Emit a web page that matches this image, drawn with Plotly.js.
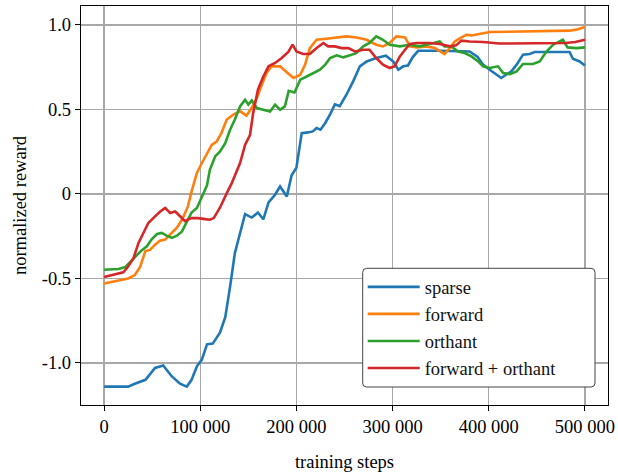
<!DOCTYPE html>
<html>
<head>
<meta charset="utf-8">
<script src="https://cdn.plot.ly/plotly-3.0.1.min.js"></script>
<style>html,body{margin:0;padding:0;background:#fff;}#chart{width:618px;height:475px;}</style>
</head>
<body>
<div id="chart"></div>
<script>
const seriesNames = ["sparse", "forward", "orthant", "forward + orthant"];
const seriesColors = ["#1f77b4", "#ff7f0e", "#2ca02c", "#d62728"];

const sparseX = [0, 10000, 20000, 25000, 32000, 43000, 53000, 61500, 70500, 79000, 86000, 91000, 96500, 101700, 107000, 113000, 120600, 126000, 131000, 136000, 141500, 146600, 153500, 160000, 165600, 171000, 177800, 183000, 190000, 195000, 200000, 205500, 212000, 217000, 221000, 225000, 230000, 235000, 240000, 245000, 252000, 259000, 266000, 273000, 283000, 293000, 300600, 306000, 311000, 316000, 321000, 326600, 349000, 365000, 380000, 388500, 394000, 401000, 408000, 413000, 418000, 423500, 429000, 435600, 442600, 447800, 484000, 487500, 494500, 500000];
const sparseY = [-1.14, -1.14, -1.14, -1.14, -1.123, -1.10, -1.03, -1.015, -1.08, -1.123, -1.14, -1.10, -1.02, -0.98, -0.89, -0.886, -0.82, -0.73, -0.55, -0.35, -0.23, -0.12, -0.14, -0.11, -0.15, -0.05, -0.005, 0.044, -0.015, 0.11, 0.155, 0.36, 0.364, 0.37, 0.39, 0.38, 0.42, 0.47, 0.53, 0.52, 0.587, 0.666, 0.755, 0.784, 0.804, 0.818, 0.784, 0.735, 0.755, 0.76, 0.81, 0.847, 0.847, 0.845, 0.843, 0.81, 0.765, 0.735, 0.705, 0.686, 0.705, 0.725, 0.765, 0.824, 0.828, 0.84, 0.84, 0.80, 0.784, 0.76];

const forwardX = [0, 25000, 32000, 37600, 42800, 48000, 53000, 58000, 63500, 68700, 75700, 81000, 87000, 91000, 96500, 101700, 107000, 112000, 117000, 122000, 127600, 134500, 141400, 148000, 153600, 158800, 164000, 169000, 174000, 183000, 190000, 197000, 204000, 209000, 214000, 221000, 231000, 242000, 252000, 262600, 273000, 283000, 290000, 297000, 304000, 313000, 318000, 325000, 335000, 344000, 349000, 354000, 359500, 364700, 371600, 377000, 382000, 390600, 401000, 484000, 491000, 500000];
const forwardY = [-0.53, -0.50, -0.48, -0.43, -0.34, -0.33, -0.30, -0.277, -0.27, -0.24, -0.20, -0.153, -0.077, 0.015, 0.124, 0.183, 0.24, 0.29, 0.31, 0.36, 0.44, 0.47, 0.49, 0.463, 0.51, 0.567, 0.646, 0.715, 0.755, 0.755, 0.72, 0.686, 0.705, 0.765, 0.863, 0.912, 0.918, 0.926, 0.932, 0.926, 0.912, 0.883, 0.873, 0.893, 0.932, 0.926, 0.873, 0.867, 0.873, 0.863, 0.843, 0.828, 0.863, 0.902, 0.926, 0.942, 0.938, 0.946, 0.958, 0.966, 0.972, 0.987];

const orthantX = [0, 15000, 22000, 27000, 32000, 39000, 44500, 49700, 55000, 60000, 65000, 70500, 75700, 81000, 86000, 91000, 96500, 101700, 107000, 110000, 115500, 120600, 126000, 131000, 136000, 141400, 146600, 150000, 153600, 158800, 165600, 172600, 177800, 183000, 188000, 192000, 198000, 204000, 210700, 217500, 224500, 230000, 235000, 242000, 248700, 255700, 262600, 269500, 276000, 283000, 290000, 297000, 307600, 318000, 328000, 338700, 349000, 354000, 361000, 368000, 375000, 382000, 389000, 394000, 401000, 409600, 415000, 422000, 429000, 435600, 446000, 453000, 460000, 467000, 473700, 477000, 482000, 491000, 500000];
const orthantY = [-0.449, -0.444, -0.433, -0.405, -0.373, -0.334, -0.31, -0.267, -0.237, -0.231, -0.247, -0.26, -0.247, -0.222, -0.165, -0.11, -0.083, -0.015, 0.05, 0.143, 0.222, 0.251, 0.30, 0.38, 0.44, 0.518, 0.557, 0.528, 0.553, 0.508, 0.498, 0.488, 0.528, 0.498, 0.518, 0.61, 0.60, 0.676, 0.695, 0.715, 0.735, 0.765, 0.804, 0.82, 0.808, 0.82, 0.834, 0.873, 0.893, 0.932, 0.912, 0.883, 0.873, 0.883, 0.873, 0.887, 0.902, 0.873, 0.873, 0.843, 0.834, 0.814, 0.784, 0.755, 0.745, 0.755, 0.715, 0.709, 0.725, 0.769, 0.769, 0.784, 0.843, 0.883, 0.902, 0.912, 0.867, 0.863, 0.867];

const comboX = [0, 20000, 25000, 30600, 35800, 41000, 46000, 53000, 58400, 63500, 68700, 74000, 79000, 84000, 91000, 98000, 105000, 110000, 114000, 120600, 127600, 132800, 141400, 146600, 151800, 155000, 160000, 165600, 171000, 177800, 184700, 191600, 196000, 200000, 207000, 214000, 221000, 228000, 233000, 240000, 247000, 254000, 261000, 269500, 276000, 283000, 290000, 297000, 302000, 307600, 313000, 318000, 325000, 338700, 349000, 359500, 366000, 371600, 380000, 394000, 411000, 480000, 490000, 500000];
const comboY = [-0.492, -0.464, -0.43, -0.38, -0.29, -0.231, -0.172, -0.133, -0.104, -0.083, -0.113, -0.104, -0.133, -0.16, -0.143, -0.143, -0.149, -0.153, -0.143, -0.08, 0.005, 0.064, 0.183, 0.29, 0.35, 0.478, 0.617, 0.695, 0.755, 0.775, 0.804, 0.84, 0.883, 0.843, 0.828, 0.828, 0.863, 0.893, 0.873, 0.873, 0.863, 0.863, 0.843, 0.853, 0.853, 0.804, 0.765, 0.745, 0.755, 0.814, 0.853, 0.887, 0.893, 0.893, 0.887, 0.873, 0.879, 0.907, 0.902, 0.899, 0.89, 0.893, 0.899, 0.912];

const xTickVals = [0, 100000, 200000, 300000, 400000, 500000];
const xTickText = ["0", "100 000", "200 000", "300 000", "400 000", "500 000"];
const yTickVals = [-1.0, -0.5, 0, 0.5, 1.0];
const yTickText = ["-1.0", "-0.5", "0", "0.5", "1.0"];

const xs = [sparseX, forwardX, orthantX, comboX];
const ys = [sparseY, forwardY, orthantY, comboY];

const FONT = "Liberation Serif, Times New Roman, serif";
const traces = seriesNames.map((n, i) => ({
  type: "scatter", mode: "lines", name: n,
  x: xs[i], y: ys[i],
  line: {color: seriesColors[i], width: 2.6}
}));

// legend frame (rounded rectangle) in paper coordinates
const PW = 527, PH = 399;
const bx0 = (362.7 - 81) / PW, bx1 = (595 - 81) / PW;
const by1 = (405 - 268.3) / PH, by0 = (405 - 387) / PH;
const rx = 4 / PW, ry = 4 / PH;
const framePath = `M ${bx0 + rx},${by1} L ${bx1 - rx},${by1} Q ${bx1},${by1} ${bx1},${by1 - ry} ` +
  `L ${bx1},${by0 + ry} Q ${bx1},${by0} ${bx1 - rx},${by0} L ${bx0 + rx},${by0} ` +
  `Q ${bx0},${by0} ${bx0},${by0 + ry} L ${bx0},${by1 - ry} Q ${bx0},${by1} ${bx0 + rx},${by1} Z`;

const layout = {
  width: 618, height: 475,
  margin: {l: 81, r: 10, t: 6, b: 70},
  paper_bgcolor: "#fff", plot_bgcolor: "#fff",
  font: {family: FONT, size: 18.5, color: "#000"},
  showlegend: true,
  legend: {
    x: 0.5345, y: 0.3426, xanchor: "left", yanchor: "top",
    bgcolor: "rgba(0,0,0,0)", borderwidth: 0,
    font: {family: FONT, size: 18.5, color: "#111"},
    itemwidth: 52
  },
  shapes: [{
    type: "path", xref: "paper", yref: "paper", layer: "above",
    path: framePath, fillcolor: "#fff", line: {color: "#444", width: 1}
  }],
  xaxis: {
    range: [-24000, 524000],
    tickvals: xTickVals, ticktext: xTickText,
    showgrid: true, gridcolor: "#a8a8a8", gridwidth: 1.2,
    zeroline: false, showline: true, mirror: true, linecolor: "#000", linewidth: 1.2,
    ticks: "outside", ticklen: 5, tickcolor: "#000", tickwidth: 1,
    tickfont: {family: FONT, size: 18.5},
    title: {text: "training steps", font: {family: FONT, size: 18.5}, standoff: 18},
    automargin: false
  },
  yaxis: {
    range: [-1.249, 1.112],
    tickvals: yTickVals, ticktext: yTickText,
    showgrid: true, gridcolor: "#a8a8a8", gridwidth: 1.2,
    zeroline: false, showline: true, mirror: true, linecolor: "#000", linewidth: 1.2,
    ticks: "outside", ticklen: 5, tickcolor: "#000", tickwidth: 1,
    tickfont: {family: FONT, size: 18.5},
    title: {text: "normalized reward", font: {family: FONT, size: 18.5}, standoff: 10},
    automargin: false
  }
};

Plotly.newPlot("chart", traces, layout, {staticPlot: true, displayModeBar: false});
</script>
</body>
</html>
